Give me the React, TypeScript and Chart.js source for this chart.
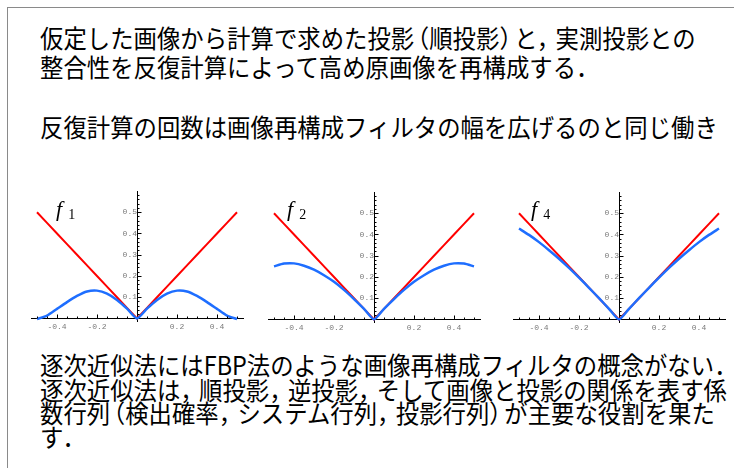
import React, { useEffect, useRef } from "react";
import { Chart, registerables } from "chart.js";

Chart.register(...registerables);

// ---- data ----
const xValues = [
  -0.5, -0.45, -0.4, -0.35, -0.3, -0.25, -0.2, -0.15, -0.1, -0.05, 0,
  0.05, 0.1, 0.15, 0.2, 0.25, 0.3, 0.35, 0.4, 0.45, 0.5,
];
// ideal ramp filter |x| (red)
const rampValues = [
  0.5, 0.45, 0.4, 0.35, 0.3, 0.25, 0.2, 0.15, 0.1, 0.05, 0,
  0.05, 0.1, 0.15, 0.2, 0.25, 0.3, 0.35, 0.4, 0.45, 0.5,
];
// effective filters after n iterations (blue)
const f1Values = [
  -0.003, 0.013, 0.045, 0.077, 0.106, 0.127, 0.131, 0.117, 0.087, 0.046, 0,
  0.046, 0.087, 0.117, 0.131, 0.127, 0.106, 0.077, 0.045, 0.013, -0.003,
];
const f2Values = [
  0.25, 0.263, 0.264, 0.253, 0.234, 0.208, 0.177, 0.139, 0.096, 0.05, 0,
  0.05, 0.096, 0.139, 0.177, 0.208, 0.234, 0.253, 0.264, 0.263, 0.25,
];
const f4Values = [
  0.428, 0.398, 0.364, 0.326, 0.286, 0.243, 0.197, 0.149, 0.1, 0.05, 0,
  0.05, 0.1, 0.149, 0.197, 0.243, 0.286, 0.326, 0.364, 0.398, 0.428,
];
const panelNames = ["1", "2", "4"];
const xTickLabels = [-0.4, -0.2, 0.2, 0.4];
const yTickLabels = [0.1, 0.2, 0.3, 0.4, 0.5];
const xMinorTicks = [-0.5, -0.45, -0.35, -0.3, -0.25, -0.15, -0.1, -0.05, 0.05, 0.1, 0.15, 0.25, 0.3, 0.35, 0.45, 0.5];
const yMinorTicks = [0.02, 0.04, 0.06, 0.08, 0.12, 0.14, 0.16, 0.18, 0.22, 0.24, 0.26, 0.28, 0.32, 0.34, 0.36, 0.38, 0.42, 0.44, 0.46, 0.48, 0.52, 0.54, 0.56, 0.58];

const topLines = [
  "仮定した画像から計算で求めた投影（順投影）と，実測投影との",
  "整合性を反復計算によって高め原画像を再構成する．",
  "反復計算の回数は画像再構成フィルタの幅を広げるのと同じ働き",
];
const bottomLines = [
  "逐次近似法にはFBP法のような画像再構成フィルタの概念がない．",
  "逐次近似法は，順投影，逆投影，そして画像と投影の関係を表す係",
  "数行列（検出確率，システム行列，投影行列）が主要な役割を果た",
  "す．",
];

// ---- layout ----
const TOP_LINE_Y = [25, 54, 114];
const BOTTOM_LINE_Y = [352, 377, 400, 424];
const PANEL_ORIGINS = [
  { ox: 137, oy: 319 },
  { ox: 374, oy: 320 },
  { ox: 619, oy: 320 },
];
const LABEL_X = [56, 287, 531];
const CANVAS_W = 240;
const CANVAS_H = 160;

const axisTicksPlugin = {
  id: "axisTicks",
  afterDraw(chart: any) {
    const { ctx } = chart;
    const xs = chart.scales.x;
    const ys = chart.scales.y;
    const ox = Math.round(xs.getPixelForValue(0)) + 0.5;
    const oy = Math.round(ys.getPixelForValue(0)) + 0.5;
    ctx.save();
    ctx.strokeStyle = "#000";
    ctx.lineWidth = 1;
    ctx.beginPath();
    for (const v of yMinorTicks) {
      const p = Math.round(ys.getPixelForValue(v)) + 0.5;
      ctx.moveTo(ox, p);
      ctx.lineTo(ox + 2, p);
    }
    for (const v of yTickLabels) {
      const p = Math.round(ys.getPixelForValue(v)) + 0.5;
      ctx.moveTo(ox, p);
      ctx.lineTo(ox + 4, p);
    }
    for (const v of xMinorTicks) {
      const p = Math.round(xs.getPixelForValue(v)) + 0.5;
      ctx.moveTo(p, oy);
      ctx.lineTo(p, oy - 2);
    }
    for (const v of xTickLabels) {
      const p = Math.round(xs.getPixelForValue(v)) + 0.5;
      ctx.moveTo(p, oy);
      ctx.lineTo(p, oy - 4);
    }
    ctx.stroke();
    ctx.restore();
  },
};

function FilterChart({ blue, left, top }: { blue: number[]; left: number; top: number }) {
  const ref = useRef<HTMLCanvasElement | null>(null);
  useEffect(() => {
    if (!ref.current) return;
    const tickFont = { family: "'Liberation Mono', 'DejaVu Sans Mono', monospace", size: 8 };
    const chart = new Chart(ref.current, {
      type: "line",
      data: {
        datasets: [
          {
            data: xValues.map((x, i) => ({ x, y: blue[i] })),
            borderColor: "#1e6eff",
            borderWidth: 2.5,
            pointRadius: 0,
            tension: 0.2,
          },
          {
            data: xValues.map((x, i) => ({ x, y: rampValues[i] })),
            borderColor: "#ff0000",
            borderWidth: 2,
            pointRadius: 0,
            tension: 0,
          },
        ],
      },
      options: {
        animation: false,
        responsive: false,
        maintainAspectRatio: false,
        events: [],
        layout: { padding: { left: 14, right: 14, top: 12, bottom: 18 } },
        plugins: { legend: { display: false }, tooltip: { enabled: false } },
        scales: {
          x: {
            type: "linear",
            min: -0.53,
            max: 0.53,
            position: { y: 0 },
            grid: { display: true, drawOnChartArea: false, drawTicks: false },
            border: { display: true, color: "#000", width: 1 },
            ticks: {
              font: tickFont,
              color: "#7a7a7a",
              padding: 4,
              maxRotation: 0,
              autoSkip: false,
              callback: (v: any) => Number(v).toFixed(1),
            },
            afterBuildTicks: (s: any) => {
              s.ticks = xTickLabels.map((v) => ({ value: v }));
            },
            afterFit: (s: any) => {
              s.height = 0;
            },
          },
          y: {
            type: "linear",
            min: -0.012,
            max: 0.6,
            position: { x: 0 },
            grid: { display: true, drawOnChartArea: false, drawTicks: false },
            border: { display: true, color: "#000", width: 1 },
            ticks: {
              font: tickFont,
              color: "#7a7a7a",
              padding: 6,
              autoSkip: false,
              callback: (v: any) => Number(v).toFixed(1),
            },
            afterBuildTicks: (s: any) => {
              s.ticks = yTickLabels.map((v) => ({ value: v }));
            },
            afterFit: (s: any) => {
              s.width = 0;
            },
          },
        },
      } as any,
      plugins: [axisTicksPlugin],
    });
    return () => chart.destroy();
  }, [blue]);
  return (
    <canvas
      ref={ref}
      width={CANVAS_W}
      height={CANVAS_H}
      style={{ position: "absolute", left, top, width: CANVAS_W, height: CANVAS_H }}
    />
  );
}

const NARROW_OPEN = "（";
const NARROW_CLOSE = "），．";

function JLine({ text, top }: { text: string; top: number }) {
  const parts = Array.from(text).map((ch, i) => {
    if (ch === NARROW_OPEN) return <span key={i} style={{ marginLeft: -9 }}>{ch}</span>;
    if (ch === "）") return <span key={i} style={{ marginRight: -9 }}>{ch}</span>;
    if (NARROW_CLOSE.includes(ch)) return <span key={i} style={{ marginRight: -5 }}>{ch}</span>;
    return <React.Fragment key={i}>{ch}</React.Fragment>;
  });
  return (
    <div
      style={{
        position: "absolute",
        left: 40,
        top,
        fontFamily: "'Noto Sans CJK JP', sans-serif",
        fontSize: 25,
        lineHeight: "25px",
        whiteSpace: "nowrap",
        color: "#000",
        transform: "scaleX(0.935)",
        transformOrigin: "0 0",
      }}
    >
      {parts}
    </div>
  );
}

function FLabel({ name, left, top }: { name: string; left: number; top: number }) {
  return (
    <div
      style={{
        position: "absolute",
        left,
        top,
        fontFamily: "'Liberation Serif', 'DejaVu Serif', serif",
        whiteSpace: "nowrap",
        color: "#000",
        lineHeight: "20px",
      }}
    >
      <span style={{ fontStyle: "italic", fontSize: 22 }}>f</span>
      <span style={{ fontSize: 14, marginLeft: 6, position: "relative", top: 3 }}>{name}</span>
    </div>
  );
}

const blueSeries = [f1Values, f2Values, f4Values];

export default function App() {
  return (
    <div
      style={{
        position: "absolute",
        left: 0,
        top: 0,
        width: 734,
        height: 468,
        overflow: "hidden",
        background: "#fff",
      }}
    >
      <div
        style={{
          position: "absolute",
          left: 7,
          top: 7,
          width: 740,
          height: 470,
          borderTop: "1.5px solid #8a8a8a",
          borderLeft: "1.5px solid #8a8a8a",
        }}
      />
      {topLines.map((t, i) => (
        <JLine key={"t" + i} text={t} top={TOP_LINE_Y[i]} />
      ))}
      {bottomLines.map((t, i) => (
        <JLine key={"b" + i} text={t} top={BOTTOM_LINE_Y[i]} />
      ))}
      {PANEL_ORIGINS.map((o, i) => (
        <React.Fragment key={"p" + i}>
          <FilterChart blue={blueSeries[i]} left={o.ox - 120} top={o.oy - 140} />
          <FLabel name={panelNames[i]} left={LABEL_X[i]} top={199} />
        </React.Fragment>
      ))}
    </div>
  );
}
